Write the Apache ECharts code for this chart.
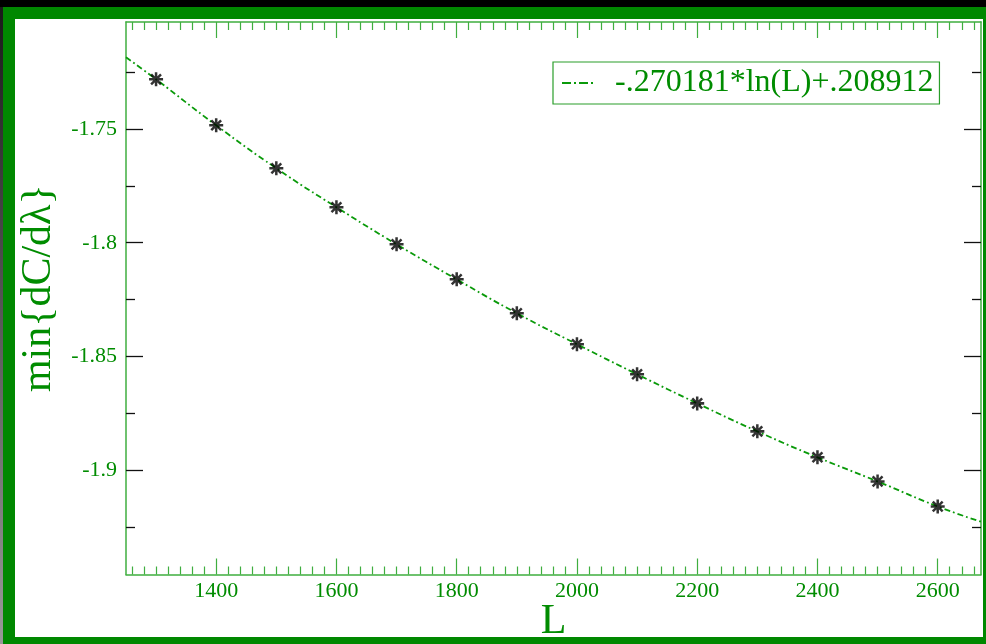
<!DOCTYPE html>
<html>
<head>
<meta charset="utf-8">
<script src="https://cdn.jsdelivr.net/npm/echarts@6/dist/echarts.min.js"></script>
<style>
html,body{margin:0;padding:0;background:#000;width:986px;height:644px;overflow:hidden;}
#strip{position:absolute;left:0;top:7px;width:3px;height:637px;background:linear-gradient(#1a1a1a,#999);}
#frame{position:absolute;left:3px;top:7px;width:983px;height:637px;background:#008800;}
#paper{position:absolute;left:15px;top:19px;width:968px;height:618px;background:#fff;}
#chart{position:absolute;left:0;top:0;width:986px;height:644px;}
</style>
</head>
<body>
<div id="strip"></div>
<div id="frame"></div>
<div id="paper"></div>
<div id="chart"></div>
<script>
// ---- data ----
const sizesL = [1300,1400,1500,1600,1700,1800,1900,2000,2100,2200,2300,2400,2500,2600];
const minDeriv = [-1.7282,-1.7484,-1.7673,-1.7844,-1.8007,-1.8161,-1.8310,-1.8446,-1.8578,-1.8706,-1.8829,-1.8943,-1.9049,-1.9159];
const fitL = [1250,1300,1400,1500,1600,1700,1800,1900,2000,2100,2200,2300,2400,2500,2600,2672];
const fitV = [-1.7185,-1.7282,-1.7484,-1.7673,-1.7844,-1.8007,-1.8161,-1.8310,-1.8446,-1.8578,-1.8706,-1.8829,-1.8943,-1.9049,-1.9159,-1.9226];
const fitName = '-.270181*ln(L)+.208912';
const xMajorTicks = [1400,1600,1800,2000,2200,2400,2600];
const yMajorTicks = [-1.75,-1.8,-1.85,-1.9];
const yMinorTicks = [-1.725,-1.775,-1.825,-1.875,-1.925];
const xMinorTicks = [];
for (let v = 1260; v <= 2660; v += 20) { if (v % 200 !== 0) xMinorTicks.push(v); }

const X_MIN = 1250, X_MAX = 2672, Y_MIN = -1.9458, Y_MAX = -1.703;
const GREEN_TXT = '#008c00', GREEN_AX = '#3fae3f', TICK_Y = '#111';
const FONT = '"Liberation Serif","Times New Roman",serif';
const asterisk = 'path://M8.2 0L11.8 0L11.8 20L8.2 20Z M0 8.2L20 8.2L20 11.8L0 11.8Z M4.2 1.7L18.3 15.8L15.8 18.3L1.7 4.2Z M18.3 4.2L4.2 18.3L1.7 15.8L15.8 1.7Z';

function xAx(pos, ticks, len, withLine, withLabel, extra) {
  return Object.assign({
    type: 'value', position: pos, min: X_MIN, max: X_MAX,
    axisLine: {show: withLine, onZero: false, lineStyle: {color: GREEN_AX, width: 1.5}},
    axisTick: {show: true, inside: true, length: len, customValues: ticks, lineStyle: {color: GREEN_AX, width: 1.2}},
    axisLabel: withLabel ? {show: true, customValues: ticks, formatter: v => String(v), color: GREEN_TXT, fontFamily: FONT, fontSize: 22, margin: 6} : {show: false},
    splitLine: {show: false}
  }, extra || {});
}
function yAx(pos, ticks, len, withLine, withLabel, extra) {
  return Object.assign({
    type: 'value', position: pos, min: Y_MIN, max: Y_MAX,
    axisLine: {show: withLine, onZero: false, lineStyle: {color: GREEN_AX, width: 1.5}},
    axisTick: {show: true, inside: true, length: len, customValues: ticks, lineStyle: {color: TICK_Y, width: 1.3}},
    axisLabel: withLabel ? {show: true, customValues: ticks, formatter: v => String(v), color: GREEN_TXT, fontFamily: FONT, fontSize: 22, margin: 9} : {show: false},
    splitLine: {show: false}
  }, extra || {});
}

const chart = echarts.init(document.getElementById('chart'), null, {renderer: 'canvas'});
chart.setOption({
  animation: false,
  backgroundColor: 'transparent',
  grid: {left: 126, right: 5, top: 22, bottom: 69.5, outerBoundsMode: 'none', containLabel: false},
  legend: {
    left: 553, top: 62,
    data: [fitName],
    icon: 'path://M0 0H9V2H0Z M12 0H14V2H12Z M17 0H26V2H17Z M29 0H31V2H29Z',
    itemWidth: 31, itemHeight: 2,
    backgroundColor: '#fff', borderColor: '#2a9e2a', borderWidth: 1.2, borderRadius: 0,
    padding: [5, 6, 5, 9],
    textStyle: {color: GREEN_TXT, fontFamily: FONT, fontSize: 32, padding: [0, 0, 0, 17]}
  },
  xAxis: [
    xAx('bottom', xMajorTicks, 16, true, true, {
      name: 'L', nameLocation: 'middle', nameGap: 26, nameMoveOverlap: false,
      nameTextStyle: {color: GREEN_TXT, fontFamily: FONT, fontSize: 42, verticalAlign: 'top', lineHeight: 42}
    }),
    xAx('bottom', xMinorTicks, 8, false, false),
    xAx('top', xMajorTicks, 16, true, false),
    xAx('top', xMinorTicks, 8, false, false)
  ],
  yAxis: [
    yAx('left', yMajorTicks, 17, true, true, {
      name: 'min{dC/dλ}', nameLocation: 'middle', nameGap: 66, nameMoveOverlap: false,
      nameTextStyle: {color: GREEN_TXT, fontFamily: FONT, fontSize: 42, padding: [0, 0, 0, 20]}
    }),
    yAx('left', yMinorTicks, 9, false, false),
    yAx('right', yMajorTicks, 17, true, false),
    yAx('right', yMinorTicks, 9, false, false)
  ],
  series: [
    {
      name: fitName, type: 'line', xAxisIndex: 0, yAxisIndex: 0,
      data: fitL.map((l, i) => [l, fitV[i]]),
      smooth: true, showSymbol: false, symbol: 'none',
      color: '#0a9a0a',
      lineStyle: {color: '#0a9a0a', width: 1.8, type: [6, 3, 1.8, 3]},
      z: 2
    },
    {
      name: 'points', type: 'scatter', xAxisIndex: 0, yAxisIndex: 0,
      data: sizesL.map((l, i) => [l, minDeriv[i]]),
      symbol: asterisk, symbolSize: 14,
      itemStyle: {color: '#000'},
      z: 3
    }
  ]
});
</script>
</body>
</html>
